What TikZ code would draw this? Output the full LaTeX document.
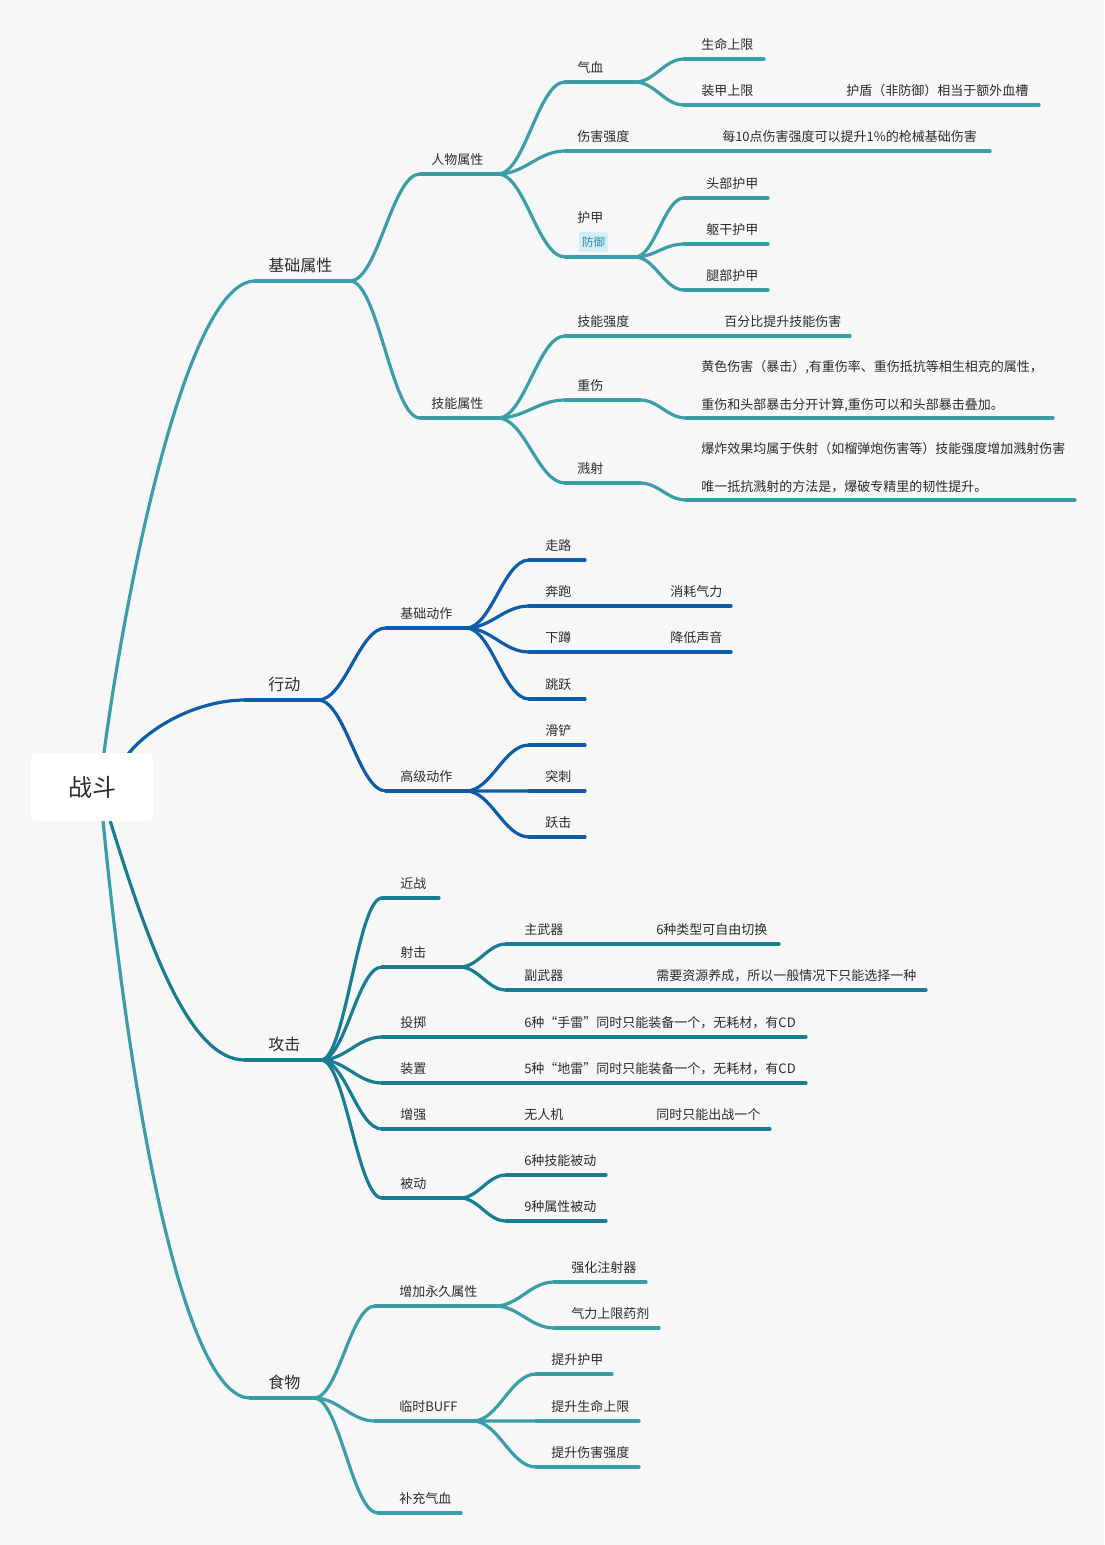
\documentclass[tikz,border=0pt]{standalone}
\usepackage{fontspec}
\newfontfamily\cjk{Noto Sans CJK SC}
\usetikzlibrary{calc}
\pgfdeclarelayer{back}
\pgfsetlayers{back,main}
\definecolor{bg}{HTML}{F7F7F7}
\definecolor{cA}{HTML}{3A9DA8}
\definecolor{cB}{HTML}{0E5BA8}
\definecolor{cC}{HTML}{187C93}
\definecolor{txt}{HTML}{2B2B2B}
\definecolor{tagbg}{HTML}{D3EEF6}
\definecolor{tagfg}{HTML}{2A8AA2}
% [style] name x0 x1 y textx colour text
\newcommand\mtopic[8][lbl]{%
  \coordinate (#2-l) at (#3,#5);
  \coordinate (#2-r) at (#4,#5);
  \draw[ul=#7] (#2-l) -- (#2-r);
  \node[#1] (#2) at (#6,{#5-14}) {#8};
}
\newcommand\mconn[3]{\draw[ul=#3] let \p1=(#1-r), \p2=(#2-l) in
  (\p1) .. controls ($(\p1)!0.4!(\x2,\y1)$) and ($(\p2)!0.4!(\x1,\y2)$) .. (\p2);}
\newcommand\mline[3]{\draw[ul=#3] (#1-r) -- (#2-l);}
\begin{document}
\begin{tikzpicture}[x=0.75pt,y=-0.75pt,
  ul/.style={draw=#1, line width=2.4pt, line cap=round},
  lbl/.style={anchor=west, inner sep=0pt, text=txt,
    font=\cjk\fontsize{9.75}{11.7}\selectfont, text height=8.3pt, text depth=1.45pt},
  lbl1/.style={lbl, font=\cjk\fontsize{12}{14}\selectfont, text height=10.2pt, text depth=1.8pt, yshift=0.75pt},
  note2/.style={lbl, align=left, text height=, text depth=, yshift=13.5pt,
    font=\cjk\fontsize{9.75}{28.5}\selectfont},
  tagbox/.style={fill=tagbg, text=tagfg, rounded corners=1.5pt, inner sep=0pt,
    minimum width=21.75pt, minimum height=15pt, font=\cjk\fontsize{8.6}{10}\selectfont},
  rootbox/.style={fill=white, rounded corners=4.5pt, inner sep=0pt, text=txt,
    minimum width=91.5pt, minimum height=51pt, font=\cjk\fontsize{18}{20}\selectfont}]
\useasboundingbox (0,0) rectangle (1104,1545);

\node[rootbox] (root) at (92,787) {战斗};

% level 1
\mtopic[lbl1]{jc}{255}{350}{281}{268}{cA}{基础属性}
\mtopic[lbl1]{xd}{245}{318}{700}{268}{cB}{行动}
\mtopic[lbl1]{gj}{245}{321}{1060}{268}{cC}{攻击}
\mtopic[lbl1]{sw}{250}{314}{1398}{268}{cA}{食物}

\begin{pgfonlayer}{back}
\fill[bg] (0,0) rectangle (1104,1545);
\draw[ul=cA] ($(root.north)+(12,0)$) .. controls (130,560) and (190,281) .. (jc-l);
\draw[ul=cB] ($(root.north)+(34,4)$) .. controls (150,725) and (200,700) .. (xd-l);
\draw[ul=cC] ($(root.south)+(18,-1)$) .. controls (150,950) and (190,1060) .. (gj-l);
\draw[ul=cA] ($(root.south)+(11,-1)$) .. controls (135,1150) and (190,1398) .. (sw-l);
\end{pgfonlayer}

% ---------- 基础属性
\mtopic{rw}{420}{498}{174}{431}{cA}{人物属性}
\mtopic{jn}{420}{498}{418}{431}{cA}{技能属性}
\mconn{jc}{rw}{cA}\mconn{jc}{jn}{cA}

\mtopic{qx}{565}{635}{82}{577}{cA}{气血}
\mtopic{shqd}{565}{700}{151}{577}{cA}{伤害强度}
\mtopic{shqdn}{707}{990}{151}{722}{cA}{每10点伤害强度可以提升1\%的枪械基础伤害}
\mtopic[lbl,yshift=18.75pt]{hj}{565}{635}{257}{577}{cA}{护甲}
\node[tagbox] (hjtag) at (593.5,242) {防御};
\mconn{rw}{qx}{cA}\mconn{rw}{shqd}{cA}\mconn{rw}{hj}{cA}
\mline{shqd}{shqdn}{cA}

\mtopic{smsx}{684}{764}{59}{701}{cA}{生命上限}
\mtopic{zjsx}{684}{800}{105}{701}{cA}{装甲上限}
\mtopic{hd}{831}{1039}{105}{846}{cA}{护盾（非防御）相当于额外血槽}
\mconn{qx}{smsx}{cA}\mconn{qx}{zjsx}{cA}\mline{zjsx}{hd}{cA}

\mtopic{tbhj}{684}{768}{198}{706}{cA}{头部护甲}
\mtopic{qghj}{684}{768}{244}{706}{cA}{躯干护甲}
\mtopic{tuihj}{684}{768}{290}{706}{cA}{腿部护甲}
\mconn{hj}{tbhj}{cA}\mconn{hj}{qghj}{cA}\mconn{hj}{tuihj}{cA}

\mtopic{jnqd}{565}{700}{336}{577}{cA}{技能强度}
\mtopic{jnqdn}{709}{850}{336}{724}{cA}{百分比提升技能伤害}
\mtopic{zs}{565}{640}{400}{577}{cA}{重伤}
\mtopic[note2]{zsn}{686}{1053}{418}{701}{cA}{黄色伤害（暴击）,有重伤率、重伤抵抗等相生相克的属性，\\重伤和头部暴击分开计算,重伤可以和头部暴击叠加。}
\mtopic{js}{565}{640}{483}{577}{cA}{溅射}
\mtopic[note2]{jsn}{686}{1075}{500}{701}{cA}{爆炸效果均属于佚射（如榴弹炮伤害等）技能强度增加溅射伤害\\唯一抵抗溅射的方法是，爆破专精里的韧性提升。}
\mconn{jn}{jnqd}{cA}\mconn{jn}{zs}{cA}\mconn{jn}{js}{cA}
\mline{jnqd}{jnqdn}{cA}\mconn{zs}{zsn}{cA}\mconn{js}{jsn}{cA}

% ---------- 行动
\mtopic{jcdz}{386}{466}{628}{400}{cB}{基础动作}
\mtopic{gjdz}{386}{466}{791}{400}{cB}{高级动作}
\mconn{xd}{jcdz}{cB}\mconn{xd}{gjdz}{cB}
\mtopic{zl}{529}{585}{560}{545}{cB}{走路}
\mtopic{bp}{529}{640}{606}{545}{cB}{奔跑}
\mtopic{bpn}{655}{731}{606}{670}{cB}{消耗气力}
\mtopic{xdun}{529}{640}{652}{545}{cB}{下蹲}
\mtopic{xdunn}{655}{731}{652}{670}{cB}{降低声音}
\mtopic{ty}{529}{585}{699}{545}{cB}{跳跃}
\mconn{jcdz}{zl}{cB}\mconn{jcdz}{bp}{cB}\mconn{jcdz}{xdun}{cB}\mconn{jcdz}{ty}{cB}
\mline{bp}{bpn}{cB}\mline{xdun}{xdunn}{cB}
\mtopic{hc}{529}{585}{745}{545}{cB}{滑铲}
\mtopic{tc}{529}{585}{791}{545}{cB}{突刺}
\mtopic{yj}{529}{585}{837}{545}{cB}{跃击}
\mconn{gjdz}{hc}{cB}\mconn{gjdz}{tc}{cB}\mconn{gjdz}{yj}{cB}

% ---------- 攻击
\mtopic{jz}{382}{439}{898}{400}{cC}{近战}
\mtopic{sj}{382}{460}{967}{400}{cC}{射击}
\mtopic{tz}{382}{505}{1037}{400}{cC}{投掷}
\mtopic{tzn}{509}{806}{1037}{524}{cC}{6种“手雷”同时只能装备一个，无耗材，有CD}
\mtopic{zz}{382}{505}{1083}{400}{cC}{装置}
\mtopic{zzn}{509}{806}{1083}{524}{cC}{5种“地雷”同时只能装备一个，无耗材，有CD}
\mtopic{zq}{382}{505}{1129}{400}{cC}{增强}
\mtopic{wrj}{509}{640}{1129}{524}{cC}{无人机}
\mtopic{wrjn}{641}{770}{1129}{656}{cC}{同时只能出战一个}
\mtopic{bd}{382}{460}{1198}{400}{cC}{被动}
\mconn{gj}{jz}{cC}\mconn{gj}{sj}{cC}\mconn{gj}{tz}{cC}\mconn{gj}{zz}{cC}\mconn{gj}{zq}{cC}\mconn{gj}{bd}{cC}
\mline{tz}{tzn}{cC}\mline{zz}{zzn}{cC}\mline{zq}{wrj}{cC}\mline{wrj}{wrjn}{cC}
\mtopic{zwq}{506}{640}{944}{524}{cC}{主武器}
\mtopic{zwqn}{641}{779}{944}{656}{cC}{6种类型可自由切换}
\mtopic{fwq}{506}{640}{990}{524}{cC}{副武器}
\mtopic{fwqn}{641}{926}{990}{656}{cC}{需要资源养成，所以一般情况下只能选择一种}
\mconn{sj}{zwq}{cC}\mconn{sj}{fwq}{cC}\mline{zwq}{zwqn}{cC}\mline{fwq}{fwqn}{cC}
\mtopic{jnbd}{506}{606}{1175}{524}{cC}{6种技能被动}
\mtopic{sxbd}{506}{606}{1221}{524}{cC}{9种属性被动}
\mconn{bd}{jnbd}{cC}\mconn{bd}{sxbd}{cC}

% ---------- 食物
\mtopic{zjyj}{375}{495}{1306}{399}{cA}{增加永久属性}
\mtopic{lsbuff}{375}{473}{1421}{399}{cA}{临时BUFF}
\mtopic{bcqx}{378}{461}{1513}{399}{cA}{补充气血}
\mconn{sw}{zjyj}{cA}\mconn{sw}{lsbuff}{cA}\mconn{sw}{bcqx}{cA}
\mtopic{qhzsq}{554}{646}{1282}{571}{cA}{强化注射器}
\mtopic{qlsx}{554}{659}{1328}{571}{cA}{气力上限药剂}
\mconn{zjyj}{qhzsq}{cA}\mconn{zjyj}{qlsx}{cA}
\mtopic{tshj}{536}{612}{1374}{551}{cA}{提升护甲}
\mtopic{tssm}{536}{639}{1421}{551}{cA}{提升生命上限}
\mtopic{tsss}{536}{639}{1467}{551}{cA}{提升伤害强度}
\mconn{lsbuff}{tshj}{cA}\mconn{lsbuff}{tssm}{cA}\mconn{lsbuff}{tsss}{cA}
\end{tikzpicture}
\end{document}
